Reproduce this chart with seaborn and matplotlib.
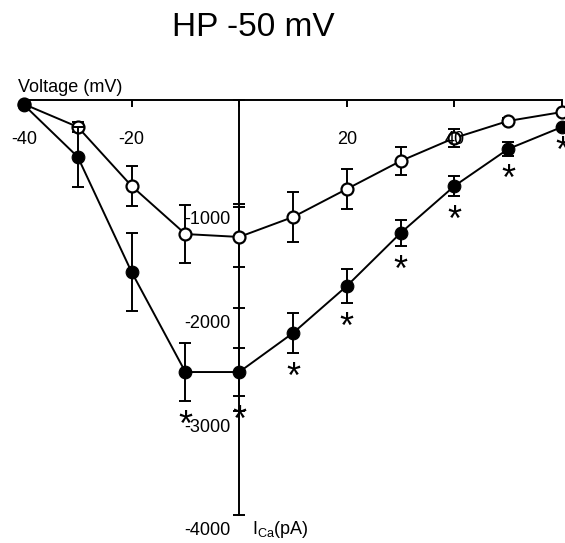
import matplotlib
matplotlib.use("Agg")
import matplotlib.pyplot as plt
import matplotlib.transforms as mtransforms
import seaborn as sns
import pandas as pd

# ---- data ----
voltages = [-40, -30, -20, -10, 0, 10, 20, 30, 40, 50, 60]
open_mean = [-40, -260, -829, -1292, -1320, -1128, -858, -588, -366, -202, -116]
open_err = [0, 50, 193, 280, 290, 241, 193, 135, 87, 30, 0]
filled_mean = [-48, -549, -1658, -2622, -2622, -2246, -1793, -1282, -829, -472, -260]
filled_err = [0, 289, 376, 280, 231, 193, 164, 125, 96, 67, 0]
signif_voltages = [-10, 0, 10, 20, 30, 40, 50, 60]

x_ticks = [-40, -20, 0, 20, 40, 60]
x_tick_labels = ["-40", "-20", "", "20", "40", ""]
y_ticks = [-4000, -3000, -2000, -1000, 0]
y_tick_labels = ["-4000", "-3000", "-2000", "-1000", ""]

title = "HP -50 mV"
x_label = "Voltage (mV)"
y_label = r"$\mathregular{I_{Ca}}$(pA)"

# ---- style ----
sns.set_theme(style="white")
plt.rcParams["font.family"] = ["Liberation Sans", "DejaVu Sans"]
plt.rcParams["axes.unicode_minus"] = False
plt.rcParams["mathtext.fontset"] = "custom"
plt.rcParams["mathtext.rm"] = "Liberation Sans"

W, H = 565, 543
fig = plt.figure(figsize=(W / 100, H / 100), dpi=100)
ax = fig.add_axes([24 / W, 1 - 515 / H, 538 / W, 415 / H])
ax.set_xlim(-40, 60)
ax.set_ylim(-4000, 0)

df = pd.DataFrame({"V": voltages, "open": open_mean, "open_err": open_err,
                   "filled": filled_mean, "filled_err": filled_err})

lw = 1.4
# open series
ax.errorbar(df["V"], df["open"], yerr=df["open_err"], fmt="none", ecolor="black",
            elinewidth=lw, capsize=4.3, capthick=lw, clip_on=False, zorder=2)
sns.lineplot(data=df, x="V", y="open", ax=ax, color="black", linewidth=lw,
             marker="o", markersize=8.6, markerfacecolor="white",
             markeredgecolor="black", markeredgewidth=1.6, clip_on=False,
             zorder=3, errorbar=None)
# filled series
ax.errorbar(df["V"], df["filled"], yerr=df["filled_err"], fmt="none", ecolor="black",
            elinewidth=lw, capsize=4.3, capthick=lw, clip_on=False, zorder=4)
sns.lineplot(data=df, x="V", y="filled", ax=ax, color="black", linewidth=lw,
             marker="o", markersize=9.2, markerfacecolor="black",
             markeredgecolor="black", clip_on=False, zorder=5, errorbar=None)

# significance asterisks below the filled points
for v in signif_voltages:
    i = voltages.index(v)
    ax.annotate("*", xy=(v, filled_mean[i] - filled_err[i]), xytext=(0, -18),
                textcoords="offset points", ha="center", va="center",
                fontsize=26, color="black", annotation_clip=False, zorder=6)

# axes through the origin
for s in ["top", "right"]:
    ax.spines[s].set_visible(False)
ax.spines["left"].set_position(("data", 0))
ax.spines["bottom"].set_position(("data", 0))
for s in ["left", "bottom"]:
    ax.spines[s].set_linewidth(lw)
    ax.spines[s].set_color("black")
    ax.spines[s].set_zorder(2.5)

ax.set_xticks(x_ticks)
ax.set_xticklabels(x_tick_labels)
ax.set_yticks(y_ticks)
ax.set_yticklabels(y_tick_labels)
ax.tick_params(axis="x", direction="out", length=5, width=lw, pad=17,
               labelsize=13, colors="black", bottom=True)
ax.tick_params(axis="y", direction="inout", length=9, width=lw, pad=2,
               labelsize=13, colors="black", left=True)
ax.xaxis.set_zorder(10)
ax.yaxis.set_zorder(10)
ax.set_xlabel("")
ax.set_ylabel("")
offset = mtransforms.ScaledTranslation(0, -10 / 72, fig.dpi_scale_trans)
for lab in ax.get_yticklabels():
    lab.set_transform(lab.get_transform() + offset)

fig.text(253 / W, 1 - 27 / H, title, ha="center", va="center", fontsize=24,
         color="black")
fig.text(18 / W, 1 - 87 / H, x_label, ha="left", va="center", fontsize=13,
         color="black")
fig.text(252 / W, 1 - 529 / H, y_label, ha="left", va="center", fontsize=13,
         color="black")

fig.savefig("out.png", dpi=100)
